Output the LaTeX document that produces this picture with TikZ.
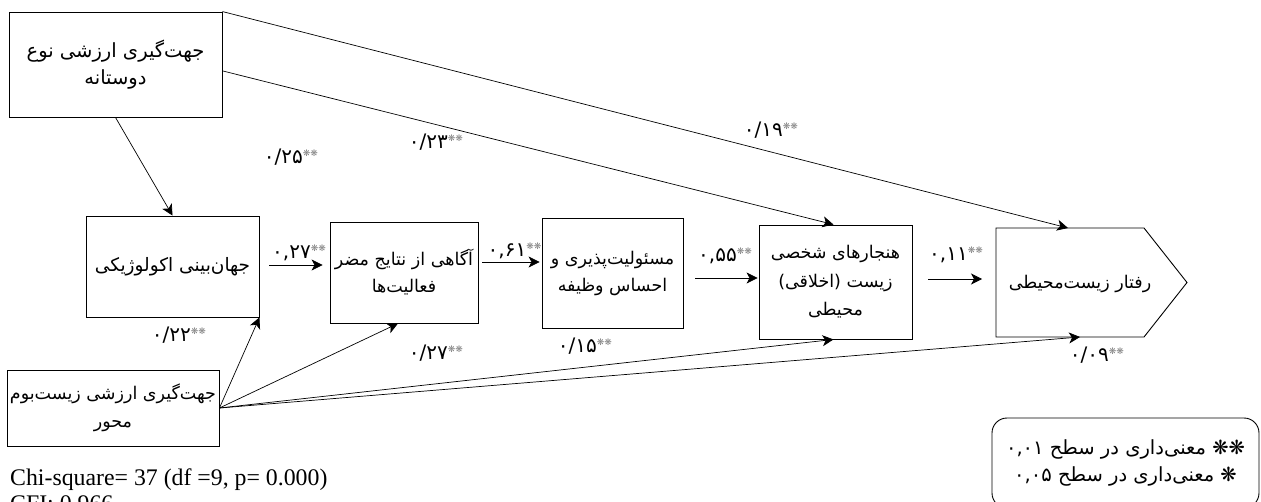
\documentclass[tikz,border=0pt]{standalone}
\usepackage{fontspec}
\usetikzlibrary{arrows.meta,calc}
\setmainfont{Liberation Serif}
\newfontfamily\fa[Script=Arabic]{DejaVu Sans}
\TeXXeTstate=1
\newcommand{\sig}[1]{\mbox{{\fa #1}\raisebox{7pt}{\fontsize{9}{9}\selectfont\color{gray}\fa ❋❋}}}
\begin{document}
\begin{tikzpicture}[x=1pt,y=-1pt,
  box/.style={draw, line width=0.9pt, align=center, inner sep=0pt, font=\fa\fontsize{17.5}{27}\selectfont},
  arr/.style={-{Stealth[length=11pt,width=11pt,inset=3pt]}, line width=0.7pt},
  lbl/.style={inner sep=0pt, font=\fontsize{20}{20}\selectfont}]
\useasboundingbox (0,0) rectangle (1261,501);

% boxes
\node[box, minimum width=213pt, minimum height=105pt, font=\fa\fontsize{19.5}{27}\selectfont] (A) at (115.5,64.5)
  {\beginR جهت‌گیری ارزشی نوع\endR\\دوستانه};
\node[box, minimum width=173pt, minimum height=101pt, font=\fa\fontsize{18.5}{27}\selectfont] (B) at (172.5,266.5)
  {\beginR جهان‌بینی اکولوژیکی\endR};
\node[box, minimum width=148pt, minimum height=101pt] (C) at (404,272.5)
  {\beginR آگاهی از نتایج مضر\endR\\فعالیت‌ها};
\node[box, minimum width=141pt, minimum height=110pt] (D) at (612.5,273)
  {\beginR مسئولیت‌پذیری و\endR\\\beginR احساس وظیفه\endR};
\node[box, minimum width=153pt, minimum height=114pt, font=\fa\fontsize{17.5}{28.5}\selectfont] (E) at (835.5,282)
  {\beginR هنجارهای شخصی\endR\\\beginR زیست (اخلاقی)\endR\\محیطی};
\node[box, minimum width=212pt, minimum height=76pt, font=\fa\fontsize{17.5}{28}\selectfont] (G) at (113,408)
  {\beginR جهت‌گیری ارزشی زیست‌بوم\endR\\محور};

% pentagon F
\coordinate (F1) at (996,228);
\coordinate (F2) at (1144,228);
\coordinate (F3) at (1187,282.5);
\coordinate (F4) at (1144,337);
\coordinate (F5) at (996,337);
\draw[line width=0.9pt] (F1) -- (F2) -- (F3) -- (F4) -- (F5) -- cycle;
\node[box, draw=none] (F) at (1080,284) {\beginR رفتار زیست‌محیطی\endR};
\coordinate (Ftop) at (1068,228);
\coordinate (Fbot) at (1080,337);
\coordinate (Fw) at (996,279);

% arrows
\draw[arr] (A.south) -- (B.north);
\draw[arr] ($(A.north east)!0.56!(A.south east)$) -- ($(E.north)+(-2,0)$);
\draw[arr] (A.north east) -- (Ftop);
\draw[arr] ($(B.east)+(10,-1.5)$) -- ($(C.west)+(-7,-7.5)$);
\draw[arr] ($(C.east)+(4,-10.5)$) -- ($(D.west)+(-2,-11)$);
\draw[arr] ($(D.east)+(12,5)$) -- ($(E.west)+(-1,-4)$);
\draw[arr] ($(E.east)+(16,-3)$) -- ($(Fw)+(-14,0)$);
\draw[arr] (G.east) -- (B.south east);
\draw[arr] (G.east) -- ($(C.south)+(-6,0)$);
\draw[arr] (G.east) -- ($(E.south)+(-2,0)$);
\draw[arr] (G.east) -- (Fbot);

% labels
\node[lbl] (l1) at (291,157) {\sig{۰/۲۵}};
\node[lbl] (l2) at (436,142) {\sig{۰/۲۳}};
\node[lbl] (l3) at (771,130) {\sig{۰/۱۹}};
\node[lbl] (l4) at (179,335) {\sig{۰/۲۲}};
\node[lbl] (l5) at (299,253) {\sig{۰,۲۷}};
\node[lbl] (l6) at (514.5,251) {\sig{۰,۶۱}};
\node[lbl] (l7) at (725,256) {\sig{۰,۵۵}};
\node[lbl] (l8) at (956,255) {\sig{۰,۱۱}};
\node[lbl] (l9) at (436,353) {\sig{۰/۲۷}};
\node[lbl] (l10) at (585,346) {\sig{۰/۱۵}};
\node[lbl] (l11) at (1097,355) {\sig{۰/۰۹}};

% legend
\node[draw, rounded corners=15pt, line width=0.9pt, minimum width=267pt, minimum height=90pt,
  align=center, inner sep=0pt, font=\fa\fontsize{19.5}{27}\selectfont] (K) at (1125.5,463)
  {\beginR ❋❋ معنی‌داری در سطح ۰,۰۱\endR\\\beginR ❋ معنی‌داری در سطح ۰,۰۵\endR};

% fit statistics
\node[anchor=base west, inner sep=0pt, font=\fontsize{23.8}{28}\selectfont] (chi) at (10,485)
  {Chi-square= 37 (df =9, p= 0.000)};
\node[anchor=base west, inner sep=0pt, font=\fontsize{23.8}{28}\selectfont] (cfi) at (10,511)
  {CFI: 0.966};
\end{tikzpicture}
\end{document}
